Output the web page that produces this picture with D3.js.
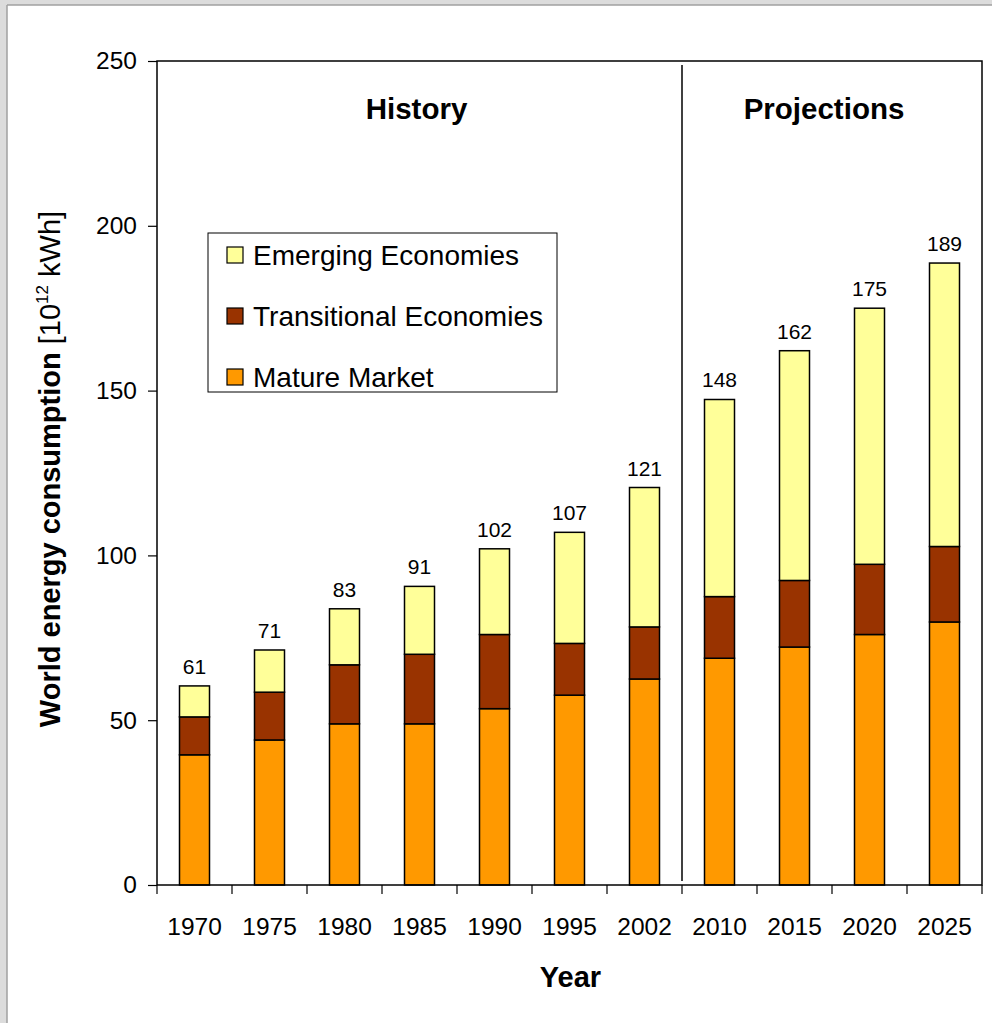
<!DOCTYPE html>
<html>
<head>
<meta charset="utf-8">
<script src="https://cdn.jsdelivr.net/npm/d3@7"></script>
<style>
  body { margin: 0; background: #fff; }
  text { font-family: "Liberation Sans", Arial, sans-serif; fill: #000; }
</style>
</head>
<body>
<div id="chart"></div>
<script>
// values
var years = ['1970', '1975', '1980', '1985', '1990', '1995', '2002', '2010', '2015', '2020', '2025']
var mature = [39.5, 44.0, 48.9, 48.9, 53.5, 57.6, 62.5, 68.8, 72.2, 76.0, 79.8]
var transitional = [11.5, 14.5, 17.9, 21.1, 22.5, 15.7, 15.8, 18.7, 20.2, 21.3, 22.9]
var emerging = [9.4, 12.8, 17.0, 20.6, 26.0, 33.7, 42.3, 59.8, 69.7, 77.7, 86.0]
var totals = [61, 71, 83, 91, 102, 107, 121, 148, 162, 175, 189]
var yTicks = [0, 50, 100, 150, 200, 250]
var seriesNames = ['Mature Market', 'Transitional Economies', 'Emerging Economies']
var legendOrder = ['Emerging Economies', 'Transitional Economies', 'Mature Market']
var colors = { 'Mature Market': '#FF9900', 'Transitional Economies': '#993300', 'Emerging Economies': '#FFFF99' }

var width = 992, height = 1023
var plotLeft = 157, plotRight = 982, plotTop = 61, plotBottom = 885

var svg = d3.select('#chart').append('svg')
    .attr('width', width)
    .attr('height', height)

// viewer frame, grey on top and left
svg.append('rect').attr('x', 0).attr('y', 0).attr('width', width).attr('height', 5).attr('fill', '#dcdcdc')
svg.append('rect').attr('x', 0).attr('y', 0).attr('width', 7).attr('height', height).attr('fill', '#dcdcdc')
svg.append('line').attr('x1', 7).attr('x2', width).attr('y1', 5).attr('y2', 5).attr('stroke', '#a0a0a0').attr('stroke-width', 1.5)
svg.append('line').attr('x1', 7).attr('x2', 7).attr('y1', 5).attr('y2', height).attr('stroke', '#a0a0a0').attr('stroke-width', 1.5)

var x = d3.scaleBand().domain(years).range([plotLeft, plotRight]).paddingInner(0.6).paddingOuter(0.3)
var y = d3.scaleLinear().domain([0, 250]).range([plotBottom, plotTop])

var table = years.map(function (yr, i) {
  return { year: yr, 'Mature Market': mature[i], 'Transitional Economies': transitional[i], 'Emerging Economies': emerging[i], total: totals[i] }
})
var stacked = d3.stack().keys(seriesNames)(table)

// bars
svg.append('g').selectAll('g')
  .data(stacked)
  .enter().append('g')
    .attr('fill', function (s) { return colors[s.key] })
  .selectAll('rect')
  .data(function (s) { return s })
  .enter().append('rect')
    .attr('x', function (d) { return x(d.data.year) })
    .attr('y', function (d) { return y(d[1]) })
    .attr('width', x.bandwidth())
    .attr('height', function (d) { return y(d[0]) - y(d[1]) })
    .attr('stroke', '#000')
    .attr('stroke-width', 1.5)

// total labels
svg.append('g').selectAll('text')
  .data(table)
  .enter().append('text')
    .attr('x', function (d) { return x(d.year) + x.bandwidth() / 2 })
    .attr('y', function (d) { return y(d['Mature Market'] + d['Transitional Economies'] + d['Emerging Economies']) - 12 })
    .attr('text-anchor', 'middle')
    .attr('font-size', '21px')
    .text(function (d) { return d.total })

// plot frame
svg.append('rect')
  .attr('x', plotLeft).attr('y', plotTop)
  .attr('width', plotRight - plotLeft).attr('height', plotBottom - plotTop)
  .attr('fill', 'none').attr('stroke', '#000').attr('stroke-width', 1.5)

// divider between history and projections
var step = x.step()
var divX = x('2010') - step * 0.3
svg.append('line')
  .attr('x1', divX).attr('x2', divX)
  .attr('y1', plotTop + 4).attr('y2', plotBottom - 4)
  .attr('stroke', '#000').attr('stroke-width', 1.5)

// y axis
var yAxis = svg.append('g')
  .attr('transform', 'translate(' + plotLeft + ',0)')
  .call(d3.axisLeft(y).tickValues(yTicks).tickSize(9).tickPadding(11).tickSizeOuter(0))
yAxis.select('.domain').remove()
yAxis.selectAll('line').attr('stroke', '#000').attr('stroke-width', 1.2)
yAxis.selectAll('text').attr('font-size', '24.5px').attr('font-family', '"Liberation Sans", Arial, sans-serif').attr('fill', '#000')

// x axis labels + ticks between categories
var xAxis = svg.append('g')
  .attr('transform', 'translate(0,' + plotBottom + ')')
  .call(d3.axisBottom(x).tickSize(0).tickPadding(50).tickSizeOuter(0))
xAxis.select('.domain').remove()
xAxis.selectAll('text').attr('font-size', '24.5px').attr('font-family', '"Liberation Sans", Arial, sans-serif').attr('fill', '#000').attr('dy', 0)

var boundaries = years.map(function (yr) { return x(yr) - step * 0.3 }).concat([plotRight])
svg.append('g').selectAll('line')
  .data(boundaries)
  .enter().append('line')
    .attr('x1', function (d) { return d }).attr('x2', function (d) { return d })
    .attr('y1', plotBottom).attr('y2', plotBottom + 9)
    .attr('stroke', '#000').attr('stroke-width', 1.2)

// section titles
var histMid = (plotLeft + divX) / 2
var projMid = (divX + plotRight) / 2
svg.append('text').attr('x', histMid - 3).attr('y', 119).attr('text-anchor', 'middle')
  .attr('font-size', '29.5px').attr('font-weight', 'bold').text('History')
svg.append('text').attr('x', projMid - 8).attr('y', 119).attr('text-anchor', 'middle')
  .attr('font-size', '29.5px').attr('font-weight', 'bold').text('Projections')

// axis titles
svg.append('text').attr('x', (plotLeft + plotRight) / 2 + 1).attr('y', 987).attr('text-anchor', 'middle')
  .attr('font-size', '29px').attr('font-weight', 'bold').text('Year')

var yTitle = svg.append('text')
  .attr('transform', 'translate(60,' + ((plotTop + plotBottom) / 2 - 4) + ') rotate(-90)')
  .attr('text-anchor', 'middle')
  .attr('font-size', '29px')
yTitle.append('tspan').attr('font-weight', 'bold').text('World energy consumption')
yTitle.append('tspan').text(' [10')
yTitle.append('tspan').attr('font-size', '17px').attr('dy', -12).text('12')
yTitle.append('tspan').attr('dy', 12).text(' kWh]')

// legend
var legend = svg.append('g')
legend.append('rect')
  .attr('x', 208).attr('y', 233).attr('width', 349).attr('height', 159)
  .attr('fill', '#fff').attr('stroke', '#000').attr('stroke-width', 1)
var rows = legend.selectAll('g.row')
  .data(legendOrder)
  .enter().append('g')
    .attr('class', 'row')
    .attr('transform', function (d, i) { return 'translate(227,' + (255 + i * 61) + ')' })
rows.append('rect')
  .attr('x', 0).attr('y', -8).attr('width', 16).attr('height', 16)
  .attr('fill', function (d) { return colors[d] })
  .attr('stroke', '#000').attr('stroke-width', 1.2)
rows.append('text')
  .attr('x', 26).attr('y', 10)
  .attr('font-size', '28px')
  .text(function (d) { return d })
</script>
</body>
</html>
